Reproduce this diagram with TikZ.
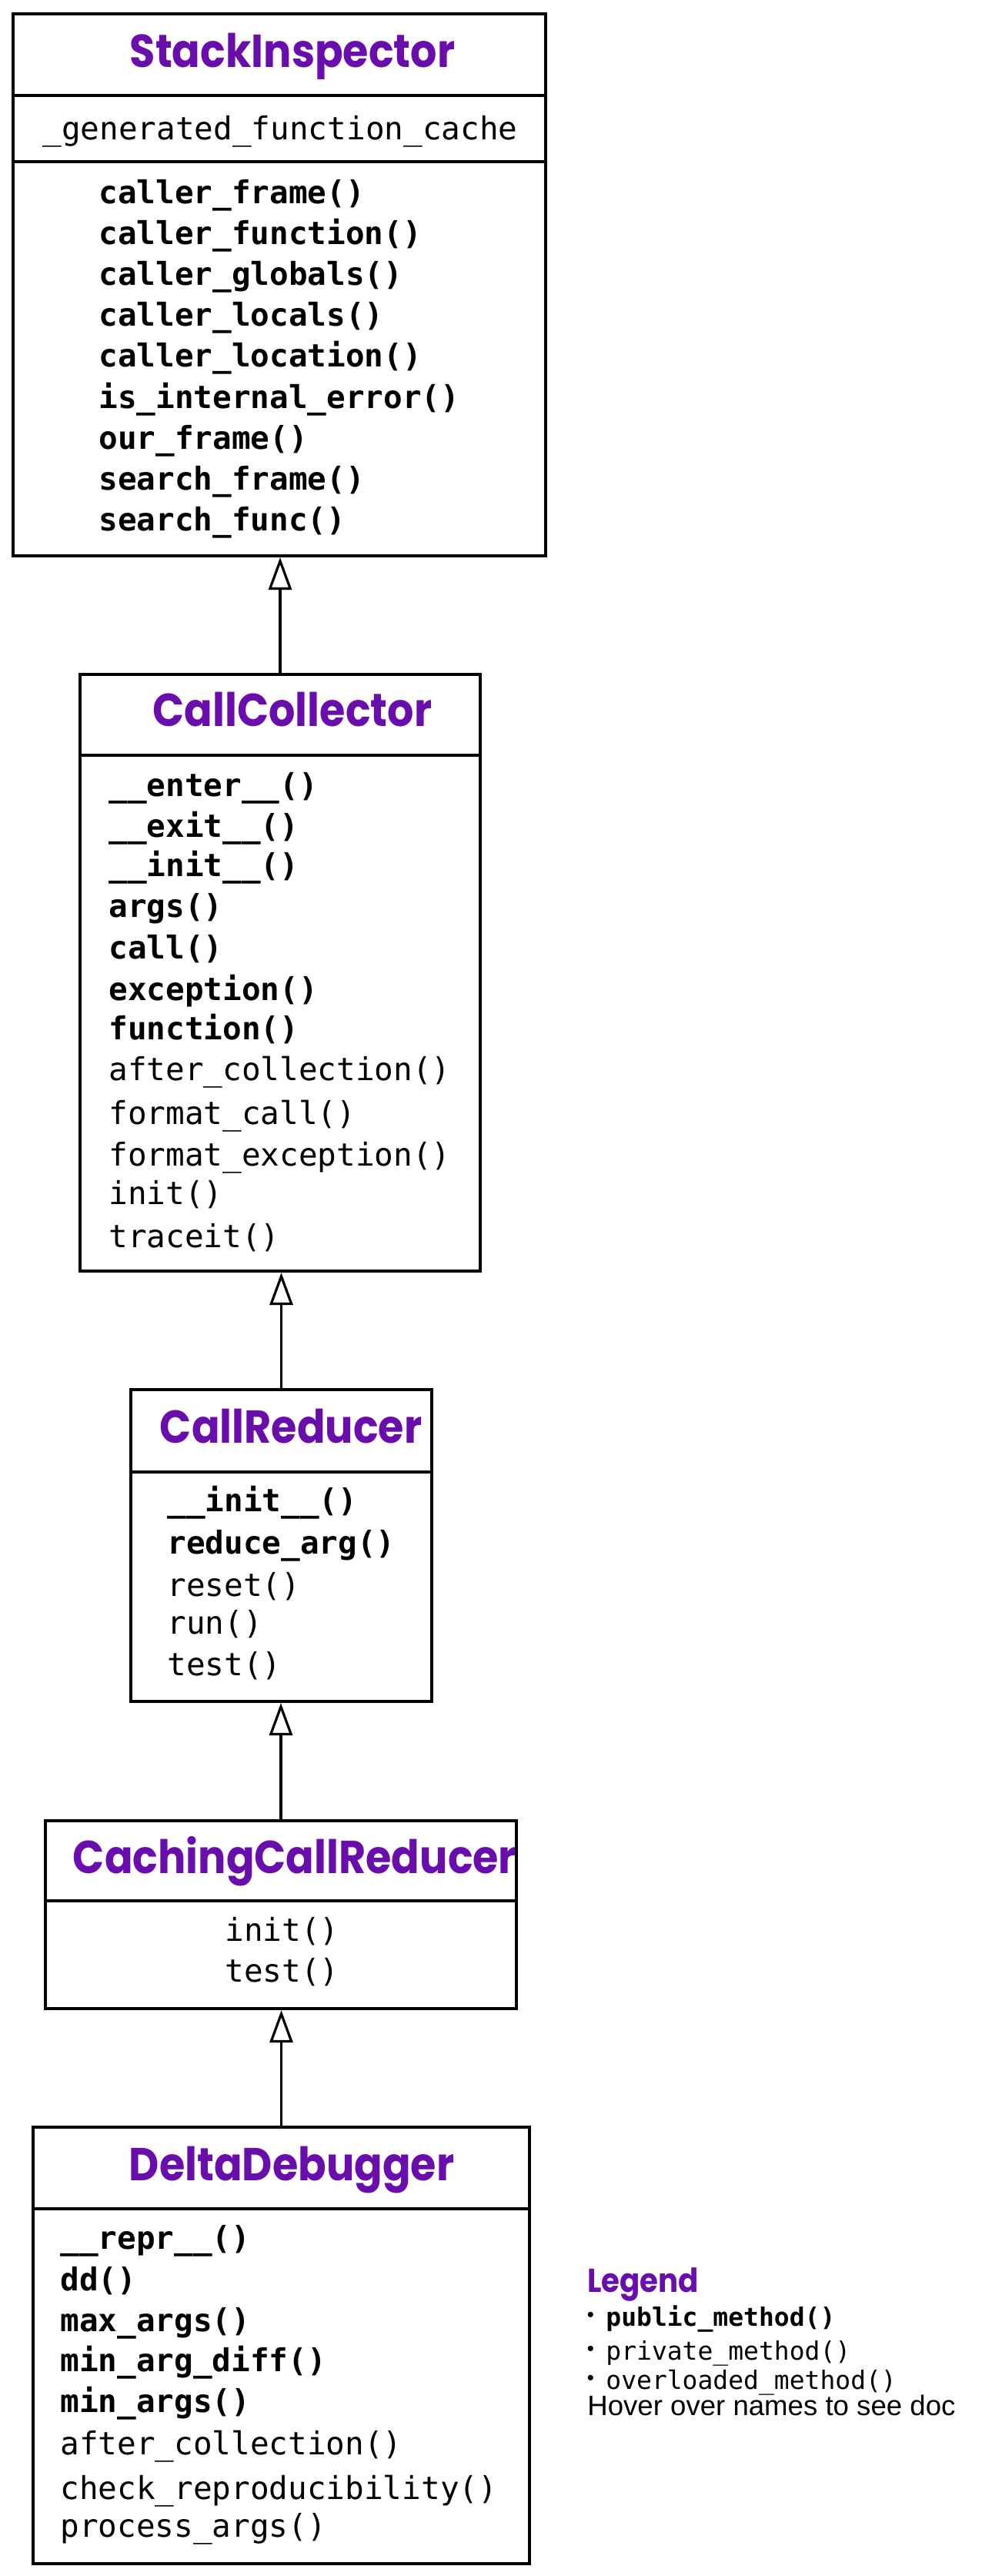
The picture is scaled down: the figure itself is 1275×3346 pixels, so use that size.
\documentclass[tikz,border=0pt]{standalone}
\usepackage{fontspec}
\usetikzlibrary{arrows.meta}
\newfontfamily\monof{DejaVu Sans Mono}
\newfontfamily\titlef{Poppins}[FakeStretch=0.9]
\newfontfamily\helvf{Liberation Sans}
\definecolor{cpurple}{HTML}{6A0DAD}
\begin{document}
\begin{tikzpicture}[x=0.5pt,y=-0.5pt,
  cls/.style={draw, line width=2pt, inner sep=0pt, fill=white},
  sepline/.style={line width=2pt},
  inh/.style={line width=1.6pt, -{Triangle[open, length=21pt, width=15pt, fill=white]}},
  title/.style={anchor=base, inner sep=0pt, text=cpurple, font=\titlef\bfseries\fontsize{30pt}{36pt}\selectfont},
  pub/.style={anchor=base west, inner sep=0pt, font=\monof\bfseries\fontsize{20.5pt}{24pt}\selectfont},
  priv/.style={anchor=base west, inner sep=0pt, font=\monof\fontsize{20.5pt}{24pt}\selectfont},
  attr/.style={anchor=base, inner sep=0pt, font=\monof\fontsize{20.5pt}{24pt}\selectfont},
  legtitle/.style={anchor=base west, inner sep=0pt, text=cpurple, font=\titlef\bfseries\fontsize{21.5pt}{25pt}\selectfont},
  legpub/.style={anchor=base west, inner sep=0pt, font=\monof\bfseries\fontsize{16.5pt}{20pt}\selectfont},
  legpriv/.style={anchor=base west, inner sep=0pt, font=\monof\fontsize{16.5pt}{20pt}\selectfont},
  bullet/.style={anchor=center, inner sep=0pt, font=\helvf\fontsize{13pt}{15pt}\selectfont},
  hover/.style={anchor=base west, inner sep=0pt, font=\helvf\fontsize{18.3pt}{22pt}\selectfont}
]
\useasboundingbox (0,0) rectangle (1275,3346);

% ---------- StackInspector ----------
\node[cls, minimum width=346pt, minimum height=352pt] (si) at (363,370) {};
\draw[sepline] (si.west |- 0,124) -- (si.east |- 0,124);
\draw[sepline] (si.west |- 0,210) -- (si.east |- 0,210);
\node[title] (si-t) at (380,87) {StackInspector};
\node[attr] (si-a) at (364,181) {\_generated\_function\_cache};
\node[pub] (si-m1) at (128,264) {caller\_frame()};
\node[pub] (si-m2) at (128,317.2) {caller\_function()};
\node[pub] (si-m3) at (128,370.4) {caller\_globals()};
\node[pub] (si-m4) at (128,423.6) {caller\_locals()};
\node[pub] (si-m5) at (128,476.8) {caller\_location()};
\node[pub] (si-m6) at (128,530) {is\_internal\_error()};
\node[pub] (si-m7) at (128,583.2) {our\_frame()};
\node[pub] (si-m8) at (128,636.4) {search\_frame()};
\node[pub] (si-m9) at (128,689.6) {search\_func()};

% ---------- CallCollector ----------
\node[cls, minimum width=260pt, minimum height=387.5pt] (cc) at (364,1263.5) {};
\draw[sepline] (cc.west |- 0,981) -- (cc.east |- 0,981);
\node[title] (cc-t) at (380,943) {CallCollector};
\node[pub] (cc-m1) at (141,1034) {\_\_enter\_\_()};
\node[pub] (cc-m2) at (141,1087) {\_\_exit\_\_()};
\node[pub] (cc-m3) at (141,1138) {\_\_init\_\_()};
\node[pub] (cc-m4) at (141,1191) {args()};
\node[pub] (cc-m5) at (141,1245) {call()};
\node[pub] (cc-m6) at (141,1299) {exception()};
\node[pub] (cc-m7) at (141,1350) {function()};
\node[priv] (cc-m8) at (141,1403) {after\_collection()};
\node[priv] (cc-m9) at (141,1460) {format\_call()};
\node[priv] (cc-m10) at (141,1514) {format\_exception()};
\node[priv] (cc-m11) at (141,1564) {init()};
\node[priv] (cc-m12) at (141,1620) {traceit()};

% ---------- CallReducer ----------
\node[cls, minimum width=195.5pt, minimum height=202.5pt] (cr) at (365.5,2007.5) {};
\draw[sepline] (cr.west |- 0,1912) -- (cr.east |- 0,1912);
\node[title] (cr-t) at (378,1874) {CallReducer};
\node[pub] (cr-m1) at (217,1963) {\_\_init\_\_()};
\node[pub] (cr-m2) at (217,2018) {reduce\_arg()};
\node[priv] (cr-m3) at (217,2073) {reset()};
\node[priv] (cr-m4) at (217,2122) {run()};
\node[priv] (cr-m5) at (217,2176) {test()};

% ---------- CachingCallReducer ----------
\node[cls, minimum width=306pt, minimum height=122pt] (ccr) at (365,2487) {};
\draw[sepline] (ccr.west |- 0,2469) -- (ccr.east |- 0,2469);
\node[title] (ccr-t) at (383,2433) {CachingCallReducer};
\node[priv] (ccr-m1) at (292,2521) {init()};
\node[priv] (ccr-m2) at (292,2574) {test()};

% ---------- DeltaDebugger ----------
\node[cls, minimum width=322.5pt, minimum height=283.5pt] (dd) at (365.5,3046.5) {};
\draw[sepline] (dd.west |- 0,2869) -- (dd.east |- 0,2869);
\node[title] (dd-t) at (379,2832) {DeltaDebugger};
\node[pub] (dd-m1) at (78,2921) {\_\_repr\_\_()};
\node[pub] (dd-m2) at (78,2975) {dd()};
\node[pub] (dd-m3) at (78,3028) {max\_args()};
\node[pub] (dd-m4) at (78,3080) {min\_arg\_diff()};
\node[pub] (dd-m5) at (78,3133) {min\_args()};
\node[priv] (dd-m6) at (78,3188) {after\_collection()};
\node[priv] (dd-m7) at (78,3246) {check\_reproducibility()};
\node[priv] (dd-m8) at (78,3295) {process\_args()};

% ---------- inheritance ----------
\draw[inh] (cc.north) -- (cc.north |- si.south);
\draw[inh] (cr.north) -- (cr.north |- cc.south);
\draw[inh] (ccr.north) -- (ccr.north |- cr.south);
\draw[inh] (dd.north) -- (dd.north |- ccr.south);

% ---------- Legend ----------
\node[legtitle] (lg-t) at (763,2977) {Legend};
\node[bullet] (lg-b1) at (767.5,3009) {•};
\node[legpub] (lg-1) at (787,3021) {public\_method()};
\node[bullet] (lg-b2) at (767.5,3053) {•};
\node[legpriv] (lg-2) at (787,3065) {private\_method()};
\node[bullet] (lg-b3) at (767.5,3091) {•};
\node[legpriv] (lg-3) at (787,3103) {overloaded\_method()};
\node[hover] (lg-h) at (763,3137) {Hover over names to see doc};
\end{tikzpicture}
\end{document}
